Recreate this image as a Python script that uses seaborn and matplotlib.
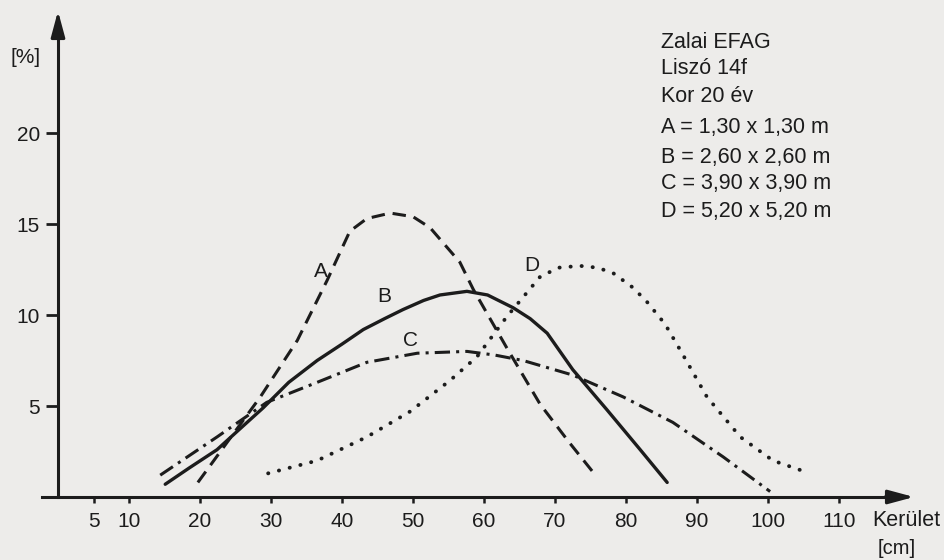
import numpy as np
import pandas as pd
import matplotlib
matplotlib.use("Agg")
import matplotlib.pyplot as plt
import seaborn as sns

# ---- data ----
a_x = [19.7, 24.0, 28.5, 33.7, 37.9, 41.1, 43.5, 46.8, 50.0, 52.4, 56.6, 58.5, 63.2, 67.9, 72.0, 75.9]
a_y = [0.8, 3.1, 5.5, 8.6, 11.9, 14.6, 15.3, 15.6, 15.4, 14.8, 12.9, 11.4, 8.2, 5.1, 3.0, 1.1]

b_x = [15.1, 18.5, 22.4, 25.5, 28.9, 32.5, 36.5, 40.0, 43.0, 46.0, 48.6, 51.5, 53.8, 57.6, 60.5, 64.1, 66.5, 68.9, 72.5, 77.3, 82.0, 85.8]
b_y = [0.7, 1.6, 2.6, 3.7, 4.9, 6.3, 7.5, 8.4, 9.2, 9.8, 10.3, 10.8, 11.1, 11.3, 11.1, 10.4, 9.8, 9.0, 7.0, 4.8, 2.6, 0.8]

c_x = [14.4, 22.4, 29.4, 36.5, 43.5, 50.6, 57.6, 61.5, 65.5, 72.5, 79.6, 86.6, 93.7, 100.3]
c_y = [1.2, 3.3, 5.2, 6.3, 7.4, 7.9, 8.0, 7.8, 7.5, 6.7, 5.5, 4.1, 2.2, 0.3]

d_x = [29.6, 36.5, 43.5, 49.6, 55.2, 59.0, 63.2, 67.9, 70.5, 73.5, 76.0, 78.2, 81.0, 83.0, 85.5, 87.6, 91.4, 96.1, 100.7, 105.9]
d_y = [1.3, 2.0, 3.3, 4.7, 6.4, 7.7, 9.9, 12.1, 12.6, 12.7, 12.6, 12.3, 11.5, 10.7, 9.5, 8.1, 5.5, 3.3, 2.0, 1.3]

curve_labels = ["A", "B", "C", "D"]
label_pos_x = [37.0, 45.9, 49.6, 66.8]
label_pos_y = [12.4, 11.0, 8.6, 12.7]

x_ticks = [5, 10, 20, 30, 40, 50, 60, 70, 80, 90, 100, 110]
y_ticks = [5, 10, 15, 20]

info_lines = ["Zalai EFAG", "Liszó 14f", "Kor 20 év",
              "A = 1,30 x 1,30 m", "B = 2,60 x 2,60 m",
              "C = 3,90 x 3,90 m", "D = 5,20 x 5,20 m"]

# ---- style ----
sns.set_theme(style="white")
plt.rcParams["font.family"] = ["Liberation Sans", "DejaVu Sans"]
BG = "#edecea"
INK = "#1c1c1c"

W, H = 945, 560
fig = plt.figure(figsize=(W / 100, H / 100), dpi=100, facecolor=BG)
ax = fig.add_axes([0, 0, 1, 1], facecolor=BG)

# pixel mapping: x data 0 -> px 58, 7.1 px/unit ; y data 0 -> py 497, 18.2 px/unit
X0, SX = 58, 7.1
Y0, SY = 497, 18.2
ax.set_xlim(-X0 / SX, (W - X0) / SX)
ax.set_ylim(-(H - Y0) / SY, Y0 / SY)

def px2x(px):
    return (px - X0) / SX

def py2y(py):
    return (Y0 - py) / SY

dfA = pd.DataFrame({"x": a_x, "y": a_y})
dfB = pd.DataFrame({"x": b_x, "y": b_y})
dfC = pd.DataFrame({"x": c_x, "y": c_y})
dfD = pd.DataFrame({"x": d_x, "y": d_y})

sns.lineplot(data=dfA, x="x", y="y", ax=ax, color=INK, lw=2.2,
             linestyle=(0, (4.4, 2.6)), sort=False, estimator=None)
sns.lineplot(data=dfB, x="x", y="y", ax=ax, color=INK, lw=2.4,
             linestyle="-", sort=False, estimator=None)
sns.lineplot(data=dfC, x="x", y="y", ax=ax, color=INK, lw=2.2,
             linestyle=(0, (5.0, 2.0, 1.0, 2.0)), sort=False, estimator=None)
sns.lineplot(data=dfD, x="x", y="y", ax=ax, color=INK, lw=2.8,
             linestyle=(0, (0.05, 2.8)), dash_capstyle="round",
             sort=False, estimator=None)

for lab, lx, ly in zip(curve_labels, label_pos_x, label_pos_y):
    ax.text(lx, ly, lab, fontsize=15, color=INK, ha="center", va="center")

# ---- axes drawn as arrows ----
for s in ["top", "right"]:
    ax.spines[s].set_visible(False)
ax.spines["left"].set_position(("data", 0))
ax.spines["bottom"].set_position(("data", 0))
ax.spines["left"].set_bounds(0, py2y(30))
ax.spines["bottom"].set_bounds(px2x(42), px2x(892))
for s in ["left", "bottom"]:
    ax.spines[s].set_color(INK)
    ax.spines[s].set_linewidth(2.2)

ax.annotate("", xy=(0, py2y(11)), xytext=(0, py2y(36)),
            arrowprops=dict(arrowstyle="-|>,head_length=1.3,head_width=0.35",
                            color=INK, lw=2.2, shrinkA=0, shrinkB=0))
ax.annotate("", xy=(px2x(914), 0), xytext=(px2x(885), 0),
            arrowprops=dict(arrowstyle="-|>,head_length=1.3,head_width=0.35",
                            color=INK, lw=2.2, shrinkA=0, shrinkB=0))

ax.set_xticks(x_ticks)
ax.set_xticklabels([str(t) for t in x_ticks])
ax.set_yticks(y_ticks)
ax.set_yticklabels([str(t) for t in y_ticks])
ax.tick_params(axis="x", direction="out", length=4, width=1.8, pad=7,
               labelsize=15, colors=INK, bottom=True)
ax.tick_params(axis="y", direction="out", length=9, width=2.0, pad=4,
               labelsize=15, colors=INK, left=True)
ax.set_xlabel("")
ax.set_ylabel("")
ax.grid(False)

# axis titles
ax.text(px2x(26), py2y(57), "[%]", fontsize=15, color=INK, ha="center", va="center")
ax.text(px2x(872), py2y(521), "Kerület", fontsize=15.5, color=INK, ha="left", va="center")
ax.text(px2x(897), py2y(549), "[cm]", fontsize=14.5, color=INK, ha="center", va="center")

# info block
info_py = [42, 68, 97, 128, 157, 183, 211]
for txt, py in zip(info_lines, info_py):
    fig.text(661 / W, 1 - py / H, txt, fontsize=15.5, color=INK, ha="left", va="center")

fig.savefig("out.png", dpi=100, facecolor=BG)
